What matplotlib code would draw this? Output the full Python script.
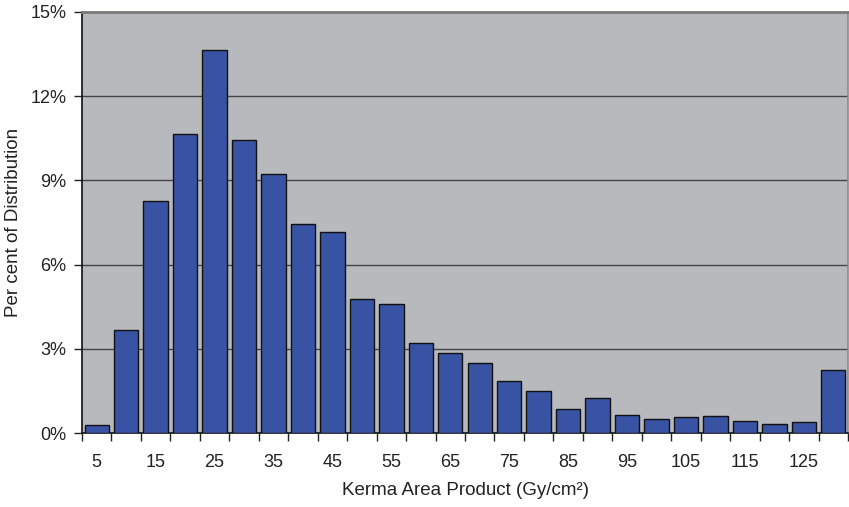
import matplotlib
matplotlib.use("Agg")
import matplotlib.pyplot as plt
import numpy as np

categories = [5, 10, 15, 20, 25, 30, 35, 40, 45, 50, 55, 60, 65, 70, 75,
              80, 85, 90, 95, 100, 105, 110, 115, 120, 125, 130]
percent = [0.30, 3.66, 8.26, 10.64, 13.64, 10.43, 9.23, 7.46, 7.15, 4.76,
           4.58, 3.22, 2.86, 2.49, 1.84, 1.50, 0.87, 1.24, 0.64, 0.51,
           0.56, 0.62, 0.43, 0.31, 0.38, 2.23]
y_ticks = [0, 3, 6, 9, 12, 15]
y_tick_labels = ["0%", "3%", "6%", "9%", "12%", "15%"]
x_label = "Kerma Area Product (Gy/cm²)"
y_label = "Per cent of Distribution"

plt.rcParams['font.family'] = ['Liberation Sans', 'DejaVu Sans']

fig = plt.figure(figsize=(8.49, 5.07), dpi=100)
ax = fig.add_axes([82/849, 1 - 433/507, (848-82)/849, (433-12)/507])
ax.set_facecolor("#b8b9bd")

x = np.arange(len(categories))
ax.bar(x, percent, width=0.83, color="#3953a4", edgecolor="#111111",
       linewidth=1.0, zorder=3)

ax.set_xlim(-0.5, len(categories) - 0.5)
ax.set_ylim(0, 15)

ax.set_yticks(y_ticks)
ax.set_yticklabels(y_tick_labels, fontsize=13, color="#222222")
for yv in y_ticks[1:-1]:
    ax.axhline(yv, color="#444444", linewidth=1.0, zorder=1)

# category boundary ticks
ax.set_xticks(np.arange(len(categories) + 1) - 0.5)
ax.set_xticklabels([])
ax.set_xticks(x[::2], minor=True)
ax.set_xticklabels([str(c) for c in categories[::2]], minor=True,
                   fontsize=13, color="#222222")
ax.tick_params(axis='x', which='major', length=6, width=1, color="#222222",
               direction='out')
ax.tick_params(axis='x', which='minor', length=0, pad=15)
ax.tick_params(axis='y', length=6, width=1, color="#222222", pad=5)

for side in ["left", "bottom"]:
    ax.spines[side].set_color("#111111")
    ax.spines[side].set_linewidth(1.2)
ax.spines["top"].set_color("#7a7a7a")
ax.spines["top"].set_linewidth(2)
ax.spines["right"].set_color("#8a8a8a")
ax.spines["right"].set_linewidth(1.2)

ax.set_xlabel(x_label, fontsize=13.5, color="#222222", labelpad=8)
fig.text(14/849, 1 - 222/507, y_label, rotation=90, ha='center', va='center',
         fontsize=13.5, color="#222222")

fig.savefig("out.png", dpi=100)
